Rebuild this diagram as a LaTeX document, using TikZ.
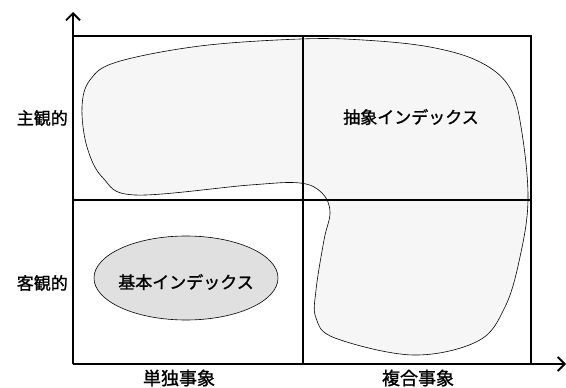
\documentclass[tikz,border=0pt]{standalone}
\usepackage{fontspec}
\newfontfamily\jp[FakeBold=1.2]{Noto Sans CJK JP}
\usetikzlibrary{arrows.meta,shapes.geometric}
\begin{document}
\begin{tikzpicture}[x=1pt,y=-1pt,
  axis/.style={line width=1.8pt,-{Straight Barb[length=7pt,width=14pt,line width=1.8pt]}},
  grid/.style={line width=1.3pt},
  blob/.style={line width=0.6pt,fill=gray!7},
  lbl/.style={font=\jp\fontsize{17}{17}\selectfont,inner sep=0pt},
  blbl/.style={font=\jp\fontsize{18}{18}\selectfont,inner sep=0pt}]
\useasboundingbox (0,0) rectangle (566,388);
% blob
\draw[blob] plot[smooth cycle,tension=0.6] coordinates {
 (300,39) (363,40) (430,47) (480,62) (510,88) (522,133) (528,200) (520,257)
 (505,307) (478,341) (413,355) (335,338) (316,318) (316,290) (324,240)
 (330,212) (322,193) (300,183) (250,185) (135,195) (103,178) (87,147)
 (82,107) (90,80) (117,62) (200,46)};
% grid
\coordinate (o) at (73,364);
\coordinate (yt) at (73,12);
\coordinate (xt) at (566,364);
\draw[grid] (73,36) -- (531,36) -- (531,364);
\draw[grid] (73,200) -- (531,200);
\draw[grid] (303,36) -- (303,364);
\draw[axis] (o) -- (yt);
\draw[axis] (o) -- (xt);
% ellipse
\node[draw,line width=0.6pt,fill=gray!24,ellipse,minimum width=184pt,minimum height=84pt,inner sep=0pt] (e) at (186,278) {};
\node[lbl] (ki) at (186,282) {基本インデックス};
\node[lbl] (ci) at (411,117) {抽象インデックス};
\node[lbl,anchor=east] (sk) at (68,118) {主観的};
\node[lbl,anchor=east] (kk) at (68,283) {客観的};
\node[blbl] (td) at (179,378) {単独事象};
\node[blbl] (fg) at (418,378) {複合事象};
\end{tikzpicture}
\end{document}
